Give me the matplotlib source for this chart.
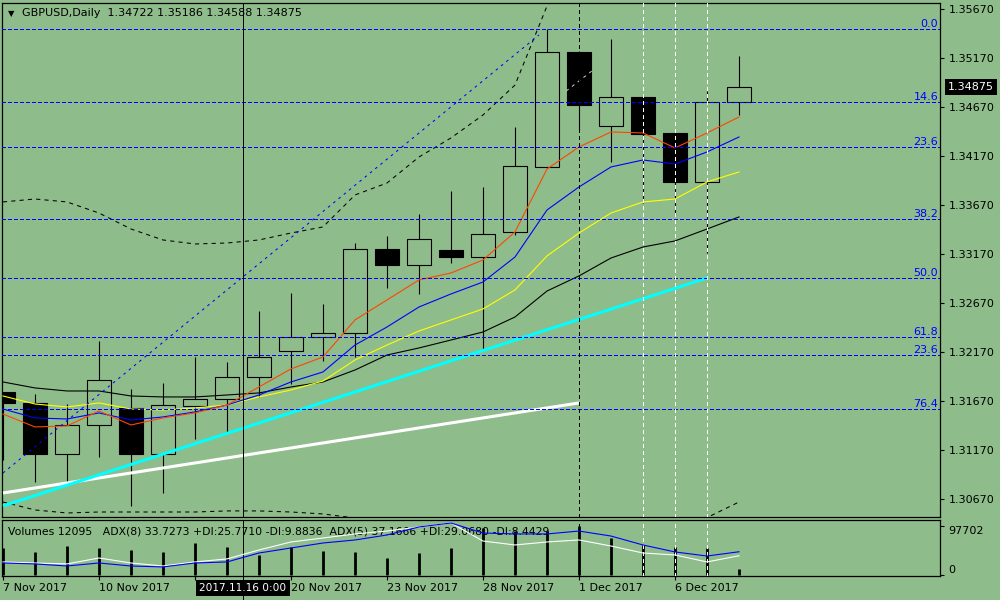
import matplotlib
matplotlib.use("Agg")
import matplotlib.pyplot as plt
from matplotlib.lines import Line2D
from matplotlib.ticker import FormatStrFormatter
from matplotlib.transforms import blended_transform_factory

BG = "#8fbc8b"

dates = ["7 Nov", "8 Nov", "9 Nov", "10 Nov", "13 Nov", "14 Nov", "15 Nov", "16 Nov",
         "17 Nov", "20 Nov", "21 Nov", "22 Nov", "23 Nov", "24 Nov", "27 Nov", "28 Nov",
         "29 Nov", "30 Nov", "1 Dec", "4 Dec", "5 Dec", "6 Dec", "7 Dec", "8 Dec"]

opens = [1.31762, 1.31650, 1.31129, 1.31425, 1.31599, 1.31129, 1.31619, 1.31690,
         1.31915, 1.32180, 1.32323, 1.32364, 1.33221, 1.33058, 1.33211, 1.33139,
         1.33395, 1.34058, 1.35231, 1.34476, 1.34772, 1.34405, 1.33905, 1.34722]
highs = [1.31762, 1.31741, 1.31639, 1.32282, 1.31792, 1.31854, 1.32119, 1.32068,
         1.32588, 1.32772, 1.32660, 1.33282, 1.33354, 1.33578, 1.33813, 1.33854,
         1.34466, 1.35466, 1.35241, 1.35364, 1.34792, 1.34425, 1.34833, 1.35186]
lows = [1.31068, 1.30843, 1.30833, 1.31099, 1.30599, 1.30731, 1.31282, 1.31354,
        1.31711, 1.31844, 1.32078, 1.32119, 1.32823, 1.32762, 1.33078, 1.32201,
        1.33364, 1.34048, 1.34435, 1.34109, 1.33690, 1.33558, 1.33180, 1.34588]
closes = [1.31650, 1.31129, 1.31425, 1.31884, 1.31129, 1.31629, 1.31690, 1.31915,
          1.32119, 1.32323, 1.32364, 1.33221, 1.33058, 1.33323, 1.33139, 1.33374,
          1.34068, 1.35231, 1.34690, 1.34772, 1.34395, 1.33905, 1.34722, 1.34875]

ma_red = [1.31537, 1.31405, 1.31415, 1.31568, 1.31425, 1.31497, 1.31548, 1.31629,
          1.31813, 1.31997, 1.32119, 1.32497, 1.32701, 1.32905, 1.32976, 1.33109,
          1.33395, 1.34037, 1.34262, 1.34415, 1.34405, 1.34252, 1.34405, 1.34568]
ma_blue = [1.31588, 1.31497, 1.31486, 1.31548, 1.31476, 1.31507, 1.31558, 1.31629,
           1.31731, 1.31864, 1.31966, 1.32241, 1.32425, 1.32629, 1.32762, 1.32884,
           1.33139, 1.33619, 1.33854, 1.34058, 1.34129, 1.34088, 1.34211, 1.34364]
ma_yellow = [1.31721, 1.31639, 1.31609, 1.31650, 1.31588, 1.31578, 1.31599, 1.31629,
             1.31711, 1.31782, 1.31874, 1.32088, 1.32241, 1.32384, 1.32497, 1.32609,
             1.32803, 1.33150, 1.33384, 1.33588, 1.33701, 1.33731, 1.33905, 1.34007]
ma_black = [1.31864, 1.31803, 1.31772, 1.31772, 1.31721, 1.31711, 1.31711, 1.31731,
            1.31752, 1.31813, 1.31864, 1.31986, 1.32139, 1.32211, 1.32292, 1.32374,
            1.32527, 1.32792, 1.32946, 1.33129, 1.33241, 1.33303, 1.33425, 1.33548]

band_upper = [1.33701, 1.33731, 1.33701, 1.33588, 1.33425, 1.33313, 1.33272, 1.33282,
              1.33313, 1.33384, 1.33446, 1.33772, 1.33894, 1.34160, 1.34354, 1.34588,
              1.34894, 1.35700, 1.36100, 1.36250, 1.36300, 1.36320, 1.36300, 1.36280]
band_lower = [1.30639, 1.30558, 1.30527, 1.30537, 1.30537, 1.30537, 1.30537, 1.30548,
              1.30548, 1.30537, 1.30517, 1.30476, 1.30400, 1.30300, 1.30200, 1.30050,
              1.29900, 1.29850, 1.29900, 1.30000, 1.30150, 1.30300, 1.30480, 1.30639]

volumes = [53800, 45900, 57800, 53800, 49800, 45900, 63800, 55800, 39900, 55800,
           47900, 45900, 33900, 43900, 53800, 93700, 87700, 87700, 97702, 73800,
           59800, 55800, 53800, 12095]
adx8 = [28.4, 27.5, 26.7, 31.8, 27.5, 24.9, 28.4, 31.0, 38.7, 45.6, 49.0, 52.5,
        55.0, 58.5, 61.9, 46.4, 43.0, 45.6, 47.3, 42.1, 36.1, 34.4, 28.4, 33.7273]
adx5 = [27.5, 26.7, 24.9, 27.5, 24.9, 24.1, 27.5, 28.4, 36.1, 40.4, 44.7, 47.3,
        51.6, 58.5, 61.9, 53.3, 52.5, 52.5, 55.0, 50.7, 43.0, 37.0, 33.5, 37.1666]

# trend lines: (bar index, price) end points
cyan_line = ([0, 22], [1.30599, 1.32925])
white_line = ([0, 18], [1.30731, 1.31650])
channel_line = ([0, 16.75], [1.30935, 1.35405])
channel_back = ([17.6, 18.4], [1.34833, 1.35037])

fib_high, fib_low = 1.35466, 1.30384
fib_levels = [0.0, 14.6, 23.6, 38.2, 50.0, 61.8, 76.4, 100.0]
fib2_level, fib2_price = 23.6, 1.32139

price_ticks = [1.30670, 1.31170, 1.31670, 1.32170, 1.32670, 1.33170,
               1.33670, 1.34170, 1.34670, 1.35170, 1.35670]
label_idx = [0, 3, 6, 9, 12, 15, 18, 21]
hidden_label = 6  # covered by the cursor date box
marker_black = [18]
marker_white = [20, 21, 22]
cursor_x = 7.5
cursor_label = "2017.11.16 0:00"

x = list(range(len(dates)))

plt.rcParams["font.family"] = ["DejaVu Sans"]
fig = plt.figure(figsize=(10, 6), dpi=100, facecolor=BG)
ax = fig.add_axes([0.002, 1 - 517 / 600, 0.938, 514 / 600], facecolor=BG)
axv = fig.add_axes([0.002, 1 - 576 / 600, 0.938, 56 / 600], facecolor=BG)
axa = axv.twinx()

dash_fib = (0, (3.8, 2.4))
dash_band = (0, (4, 4))

# candles
ax.vlines(x, lows, highs, color="black", lw=0.8, zorder=2)
bottoms = [min(o, c) for o, c in zip(opens, closes)]
heights = [abs(c - o) for o, c in zip(opens, closes)]
fills = ["black" if c < o else BG for o, c in zip(opens, closes)]
ax.bar(x, heights, bottom=bottoms, width=0.75, color=fills, edgecolor="black",
       linewidth=0.8, zorder=3)

# moving averages and bands
ax.plot(x, ma_black, color="black", lw=0.8, zorder=4)
ax.plot(x, ma_yellow, color="#ffff00", lw=0.8, zorder=4)
ax.plot(x, ma_blue, color="#0000ff", lw=0.8, zorder=4)
ax.plot(x, ma_red, color="#ff4500", lw=0.8, zorder=4)
ax.plot(x, band_upper, color="black", lw=0.75, ls=dash_band, zorder=4)
ax.plot(x, band_lower, color="black", lw=0.75, ls=dash_band, zorder=4)

# objects
ax.plot(*white_line, color="white", lw=2.2, zorder=5, solid_capstyle="butt")
ax.plot(*cyan_line, color="#00ffff", lw=2.2, zorder=5, solid_capstyle="butt")
ax.plot(*channel_line, color="#0000ff", lw=0.75, ls=(0, (2.5, 4)), zorder=5)
ax.plot(*channel_back, color="#b8d0b0", lw=0.75, ls=(0, (3, 4)), zorder=5)

blend = blended_transform_factory(ax.transAxes, ax.transData)
for lvl in fib_levels:
    p = fib_high - (fib_high - fib_low) * lvl / 100
    ax.axhline(p, color="#0000ff", lw=0.72, ls=dash_fib, zorder=5, antialiased=False)
    ax.text(0.998, p, f"{lvl:.1f}", transform=blend, ha="right", va="bottom",
            color="#0000ff", fontsize=8, clip_on=True, zorder=6)
ax.axhline(fib2_price, color="#0000ff", lw=0.72, ls=dash_fib, zorder=5,
           antialiased=False)
ax.text(0.998, fib2_price, f"{fib2_level:.1f}", transform=blend, ha="right",
        va="bottom", color="#0000ff", fontsize=8, clip_on=True, zorder=6)

for a in (ax, axv):
    for xv in marker_black:
        a.axvline(xv, color="black", lw=0.72, ls=(0, (4, 3)), zorder=6,
                  antialiased=False)
    for xv in marker_white:
        a.axvline(xv, color="white", lw=0.72, ls=(0, (4, 3)), zorder=6,
                  antialiased=False)
    a.axvline(cursor_x, color="black", lw=0.72, zorder=7, antialiased=False)
    a.set_xlim(-0.03, 29.28)
    for s in a.spines.values():
        s.set_color("black")
        s.set_linewidth(0.9)

ax.set_ylim(1.30486, 1.35731)
ax.set_xticks([])
ax.yaxis.tick_right()
ax.set_yticks(price_ticks)
ax.yaxis.set_major_formatter(FormatStrFormatter("%.5f"))
ax.tick_params(axis="y", length=3, width=0.8, pad=3, labelsize=8, colors="black")

ax.text(0.0062, 0.9805, "\u25bc", transform=ax.transAxes, fontsize=6,
        va="center", ha="left", color="black")
ax.text(0.0213, 0.9805, "GBPUSD,Daily  1.34722 1.35186 1.34588 1.34875",
        transform=ax.transAxes, fontsize=8, va="center", ha="left", color="black")
ax.text(1.0085, closes[-1], f"{closes[-1]:.5f}", transform=blend, color="white",
        fontsize=8, va="center", ha="left", clip_on=False, zorder=10,
        bbox=dict(boxstyle="square,pad=0.25", fc="black", ec="none"))

# ADX lines on their own scale
axa.set_ylim(16.3, 64.5)
axa.set_xlim(-0.03, 29.28)
axa.plot(x, adx8, color="white", lw=0.8, zorder=4)
axa.plot(x, adx5, color="#0000ff", lw=0.8, zorder=4)
axa.set_yticks([])
for s in axa.spines.values():
    s.set_visible(False)

# volumes
axv.vlines(x, 0, volumes, color="black", lw=2, zorder=3)
axv.set_ylim(-1994, 109670)
axv.yaxis.tick_right()
axv.set_yticks([0, 97702])
axv.set_yticklabels(["0", "97702"])
labs = axv.get_yticklabels()
labs[0].set_va("bottom")
labs[1].set_va("top")
axv.tick_params(axis="y", left=False, labelleft=False, right=True, labelright=True,
                length=3, width=0.8, pad=3, labelsize=8, colors="black")
axv.set_xticks(label_idx)
axv.set_xticklabels(["" if i == hidden_label else dates[i] + " 2017"
                     for i in label_idx], ha="left")
axv.tick_params(axis="x", length=3, width=0.8, pad=2, labelsize=8, colors="black")

axv.text(0.0064, 0.786,
         "Volumes 12095   ADX(8) 33.7273 +DI:25.7710 -DI:9.8836  "
         "ADX(5) 37.1666 +DI:29.0680 -DI:8.4429",
         transform=axv.transAxes, fontsize=7.8, va="center", ha="left", color="black",
         zorder=8)

# cursor through the date row
fblend = blended_transform_factory(axv.transData, fig.transFigure)
fig.add_artist(Line2D([cursor_x, cursor_x], [0, 1 - 576 / 600], transform=fblend,
                      color="black", lw=0.72, antialiased=False))
fig.text(cursor_x, 1 - 588 / 600, cursor_label, transform=fblend, color="white",
         fontsize=7.6, ha="center", va="center",
         bbox=dict(boxstyle="square,pad=0.3", fc="black", ec="none"))

fig.savefig("out.png", dpi=100, facecolor=BG)
